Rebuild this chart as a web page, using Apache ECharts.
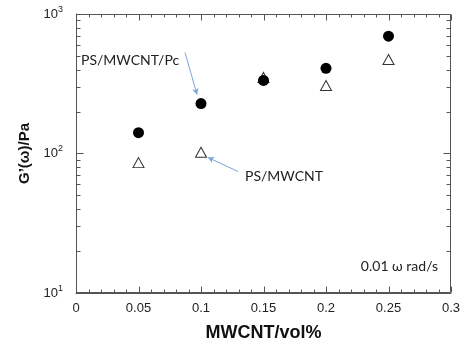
<!DOCTYPE html>
<html><head><meta charset="utf-8">
<script src="https://cdn.jsdelivr.net/npm/echarts@6/dist/echarts.min.js"></script>
<style>html,body{margin:0;padding:0;background:#fff}#c{width:467px;height:347px}</style>
</head><body><div id="c"></div>
<script>
const xValues = [0.05, 0.10, 0.15, 0.20, 0.25];
const pcValues = [141, 228, 334, 408, 693];      // PS/MWCNT/Pc (filled circles)
const cntValues = [86, 102, 351, 307, 472];      // PS/MWCNT (open triangles)
const xTickLabels = ['0','0.05','0.1','0.15','0.2','0.25','0.3'];
const xTickValues = [0,0.01,0.02,0.03,0.04,0.05,0.06,0.07,0.08,0.09,0.10,0.11,0.12,0.13,0.14,0.15,0.16,0.17,0.18,0.19,0.20,0.21,0.22,0.23,0.24,0.25,0.26,0.27,0.28,0.29,0.30];
const yTickValues = [10,20,30,40,50,60,70,80,90,100,200,300,400,500,600,700,800,900,1000];

const axisColor = '#555';
const chart = echarts.init(document.getElementById('c'));

function isMajorX(v){ const r=v/0.05; return Math.abs(r-Math.round(r))<1e-6; }
function isMajorY(v){ const r=Math.log10(v); return Math.abs(r-Math.round(r))<1e-6; }
const crisp = (v)=>Math.round(v)+0.5;

// frame with ticks, drawn through the axis scales
function renderFrame(params, api){
  const lt = api.coord([0, 1000]);
  const rb = api.coord([0.3, 10]);
  const L = crisp(lt[0]), T = crisp(lt[1]), R = crisp(rb[0]) - 1, B = crisp(rb[1]) - 1;
  const st = {stroke:axisColor, lineWidth:1, fill:'none'};
  const kids = [];
  kids.push({type:'rect', shape:{x:L, y:T, width:R-L, height:B-T}, style:{stroke:axisColor, lineWidth:1, fill:'none'}});
  xTickValues.forEach(v=>{
    const x = crisp(api.coord([v, 10])[0]);
    const len = isMajorX(v) ? 6 : 3;
    kids.push({type:'line', shape:{x1:x, y1:B, x2:x, y2:B-len}, style:st});
    kids.push({type:'line', shape:{x1:x, y1:T, x2:x, y2:T+len}, style:st});
  });
  yTickValues.forEach(v=>{
    const y = crisp(api.coord([0, v])[1]);
    const len = isMajorY(v) ? 7 : 4;
    kids.push({type:'line', shape:{x1:L, y1:y, x2:L+len, y2:y}, style:st});
    kids.push({type:'line', shape:{x1:R, y1:y, x2:R-len, y2:y}, style:st});
  });
  return {type:'group', children:kids};
}

chart.setOption({
  animation:false,
  grid:{left:76, right:16, top:14, bottom:54},
  xAxis: {
    type:'value', min:0, max:0.3, interval:0.05,
    name:'MWCNT/vol%', nameLocation:'middle', nameGap:31,
    nameTextStyle:{fontFamily:'Liberation Sans', fontWeight:'bold', fontSize:18, color:'#111'},
    axisLine:{show:true, lineStyle:{color:axisColor}},
    axisTick:{show:false},
    splitLine:{show:false},
    axisLabel:{fontFamily:'Liberation Sans', fontSize:13, color:'#222', margin:9,
      formatter:(v)=>xTickLabels[Math.round(v/0.05)]}
  },
  yAxis: {
    type:'log', min:10, max:1000,
    name:'G\u2019(\u03c9)/Pa', nameLocation:'middle', nameGap:42,
    nameTextStyle:{fontFamily:'Liberation Sans', fontWeight:'bold', fontSize:15, color:'#111'},
    axisLine:{show:true, lineStyle:{color:axisColor}},
    axisTick:{show:false},
    splitLine:{show:false},
    axisLabel:{margin:13, formatter:(v)=>'{b|10}{s|'+Math.round(Math.log10(v))+'}',
      rich:{b:{fontFamily:'Liberation Sans', fontSize:13, color:'#222'},
            s:{fontFamily:'Liberation Sans', fontSize:9, color:'#222', padding:[0,0,9,0]}}}
  },
  series: [{
    type:'custom', coordinateSystem:'cartesian2d', silent:true, clip:false,
    zlevel:2, z:100,
    data: [[0.3, 10]],
    renderItem: renderFrame
  },{
    name:'PS/MWCNT', type:'scatter', symbol:'triangle', symbolSize:[11,10], z:3,
    itemStyle:{color:'#fff', borderColor:'#333', borderWidth:1, opacity:1},
    data: xValues.map((x,i)=>[x, cntValues[i]]),
    markLine:{silent:true, symbol:['none','arrow'], symbolSize:[5,6],
      lineStyle:{color:'#7aa3dc', width:1, type:'solid'}, label:{show:false},
      data:[[{coord:[0.1296, 74.3]},{coord:[0.1056, 93.6]}]]}
  },{
    name:'PS/MWCNT/Pc', type:'scatter', symbol:'circle', symbolSize:11, z:4,
    itemStyle:{color:'#000', opacity:1},
    data: xValues.map((x,i)=>[x, pcValues[i]]),
    markLine:{silent:true, symbol:['none','arrow'], symbolSize:[5,6],
      lineStyle:{color:'#7aa3dc', width:1, type:'solid'}, label:{show:false},
      data:[[{coord:[0.0872, 530]},{coord:[0.0968, 265]}]]}
  }],
  graphic:[
    {type:'text', left:81, top:53, style:{text:'PS/MWCNT/Pc', font:'14px Lato', fill:'#222'}},
    {type:'text', left:245, top:169, style:{text:'PS/MWCNT', font:'14px Lato', fill:'#222'}},
    {type:'text', right:29, top:259, style:{text:'0.01 \u03c9 rad/s', font:'14px Lato', fill:'#222'}}
  ]
});
</script></body></html>
